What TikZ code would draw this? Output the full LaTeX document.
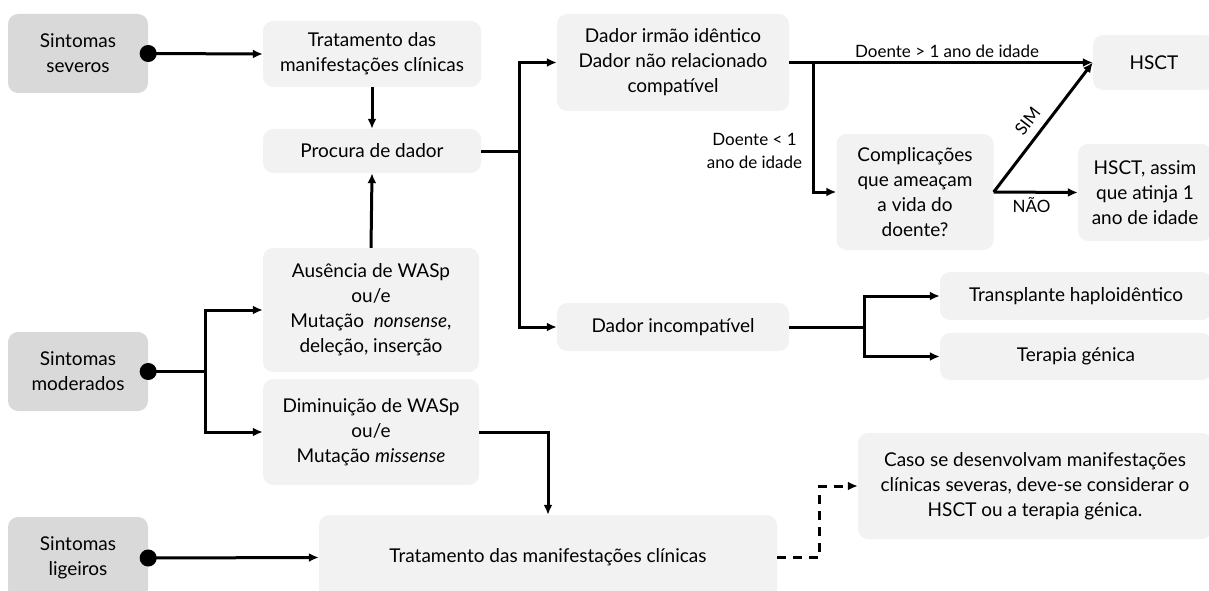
\documentclass[tikz,border=0pt]{standalone}
\usepackage{fontspec}
\setmainfont{Lato}
\usetikzlibrary{arrows.meta, positioning, calc}
\definecolor{BoxDark}{RGB}{217,217,217}
\definecolor{BoxLight}{RGB}{242,242,242}

\tikzset{
    box/.style={rounded corners=10pt, fill=BoxLight, align=center, inner sep=0pt,
                font=\fontsize{19}{25}\selectfont},
    symbox/.style={box, fill=BoxDark},
    link/.style={line width=3pt, -{Latex[length=10pt,width=9pt]}},
    dotlink/.style={link, {Circle[length=17pt]}-{Latex[length=10pt,width=9pt]}, shorten <=-8.5pt},
    plain/.style={line width=3pt},
    lbl/.style={font=\fontsize{17}{23}\selectfont, align=center}
}

\begin{document}
\begin{tikzpicture}[x=1pt, y=-1pt]
    \useasboundingbox (0,0) rectangle (1209,591);

    % sintomas
    \node[symbox, minimum width=140pt, minimum height=79pt] (sev) at (78,53.5)  {Sintomas\\severos};
    \node[symbox, minimum width=140pt, minimum height=79pt] (mod) at (78,371.5) {Sintomas\\moderados};
    \node[symbox, minimum width=140pt, minimum height=82pt] (lig) at (78,558)   {Sintomas\\ligeiros};

    % caminho severo
    \node[box, minimum width=218pt, minimum height=66pt] (trat1) at (372,54) {Tratamento das\\manifestações clínicas};
    \node[box, minimum width=218pt, minimum height=44pt] (procura) at (372,151) {Procura de dador};
    \node[box, minimum width=232pt, minimum height=97pt] (irmao) at (673,62.5) {Dador irmão idêntico\\Dador não relacionado\\compatível};
    \node[box, minimum width=232pt, minimum height=48pt] (incompat) at (673,327) {Dador incompatível};
    \node[box, minimum width=157pt, minimum height=116pt] (compl) at (915,192) {Complicações\\que ameaçam\\a vida do\\doente?};
    \node[box, minimum width=122pt, minimum height=55pt] (hsct) at (1154,62.5) {HSCT};
    \node[box, minimum width=134pt, minimum height=97pt] (assim) at (1145,192.5) {HSCT, assim\\que atinja 1\\ano de idade};
    \node[box, minimum width=272pt, minimum height=48pt] (haplo) at (1076,296) {Transplante haploidêntico};
    \node[box, minimum width=272pt, minimum height=47pt] (terapia) at (1076,356.5) {Terapia génica};

    % caminho moderado
    \node[box, minimum width=216pt, minimum height=124pt] (ausencia) at (371,310) {Ausência de WASp\\ou/e\\Mutação \ \textit{nonsense},\\deleção, inserção};
    \node[box, minimum width=216pt, minimum height=106pt] (dimin) at (371,432) {Diminuição de WASp\\ou/e\\Mutação \textit{missense}};

    % caminho ligeiro
    \node[box, minimum width=458pt, minimum height=85pt] (trat2) at (548,557.5) {Tratamento das manifestações clínicas};
    \node[box, minimum width=354pt, minimum height=106pt] (caso) at (1035,486) {Caso se desenvolvam manifestações\\clínicas severas, deve-se considerar o\\HSCT ou a terapia génica.};

    \coordinate (j1) at (519,151);
    \coordinate (j2) at (813,62.5);
    \coordinate (j3) at (864,327);
    \coordinate (j4) at (205,371.5);

    \draw[dotlink] (sev.east) -- (trat1.west);
    \draw[link] (trat1.south) -- (procura.north);
    \draw[link] (ausencia.north) -- (procura.south);
    \draw[plain] (procura.east) -- (j1);
    \draw[link] (j1) |- (irmao.west);
    \draw[link] (j1) |- (incompat.west);

    \draw[link] (irmao.east) -- node[lbl, above, pos=0.52] {Doente > 1 ano de idade} (hsct.west);
    \draw[link] (j2) |- node[lbl, left, pos=0.34, xshift=-6pt] {Doente < 1\\ano de idade} (compl.west);
    \draw[link] (compl.east) -- node[lbl, sloped, above=5pt, pos=0.47] {SIM} (hsct.west);
    \draw[link] (compl.east) -- node[lbl, below, pos=0.45] {NÃO} (assim.west);

    \draw[plain] (incompat.east) -- (j3);
    \draw[link] (j3) |- (haplo.west);
    \draw[link] (j3) |- (terapia.west);

    \draw[{Circle[length=17pt]}-, line width=3pt, shorten <=-8.5pt] (mod.east) -- (j4);
    \draw[link] (j4) |- (ausencia.west);
    \draw[link] (j4) |- (dimin.west);
    \draw[link] (dimin.east) -| (trat2.north);

    \draw[dotlink] (lig.east) -- (trat2.west);
    \draw[link, dash pattern=on 9pt off 7pt] (trat2.east) -- ++(42,0) |- (caso.west);
\end{tikzpicture}
\end{document}
